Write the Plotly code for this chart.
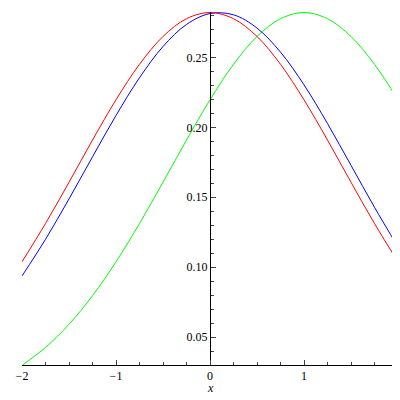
import plotly.graph_objects as go

xs = [-2, -1.75, -1.5, -1.25, -1, -0.75, -0.5, -0.25, 0, 0.25, 0.5, 0.75, 1, 1.25, 1.5, 1.75, 2]
red = [0.1038, 0.1312, 0.1607, 0.1909, 0.2197, 0.2451, 0.2650, 0.2777, 0.2821,
       0.2777, 0.2650, 0.2451, 0.2197, 0.1909, 0.1607, 0.1312, 0.1038]
blue = [0.0937, 0.1199, 0.1488, 0.1789, 0.2085, 0.2355, 0.2578, 0.2736, 0.2814,
        0.2805, 0.2710, 0.2538, 0.2304, 0.2027, 0.1728, 0.1428, 0.1144]
green = [0.0297, 0.0426, 0.0591, 0.0796, 0.1038, 0.1312, 0.1607, 0.1909, 0.2197,
         0.2451, 0.2650, 0.2777, 0.2821, 0.2777, 0.2650, 0.2451, 0.2197]

fig = go.Figure()
for ys, c in [(green, "#00ff00"), (blue, "#0000ff"), (red, "#ff0000")]:
    fig.add_trace(go.Scatter(x=xs, y=ys, mode="lines", line=dict(color=c, width=1, shape="spline")))

fig.update_layout(
    width=400, height=400, showlegend=False,
    plot_bgcolor="white", paper_bgcolor="white",
    margin=dict(l=14, r=10, t=4, b=43),
    font=dict(family="Liberation Serif", size=12, color="black"),
    xaxis=dict(range=[-2, 2], tickvals=[-2, -1, 0, 1, 2], showgrid=False, zeroline=False,
               showline=True, linecolor="black", ticks="inside", ticklen=5,
               minor=dict(ticks="inside", ticklen=3, dtick=0.25),
               automargin=False),
    yaxis=dict(range=[0.03, 0.2825], tickvals=[0.05, 0.10, 0.15, 0.20, 0.25],
               ticktext=["0.05", "0.10", "0.15", "0.20", "0.25"],
               anchor="free", position=0.5, showgrid=False, zeroline=False,
               showline=True, linecolor="black", ticks="inside", ticklen=5,
               minor=dict(ticks="inside", ticklen=3, dtick=0.01),
               automargin=False),
    annotations=[dict(text="<i>x</i>", x=0, xref="x", y=-0.065, yref="paper",
                      showarrow=False, yanchor="middle", font=dict(size=12))],
)
fig.write_html("out.html")
